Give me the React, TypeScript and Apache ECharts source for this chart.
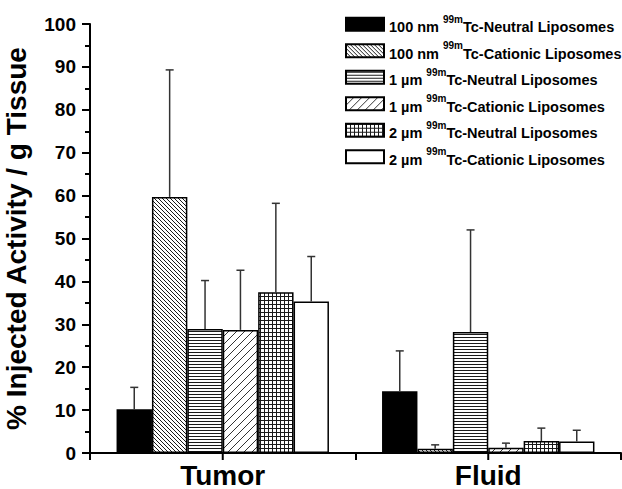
import React, { useEffect, useRef } from "react";
import * as echarts from "echarts";

const categories = ["Tumor", "Fluid"];
const seriesNames = [
  "100 nm 99mTc-Neutral Liposomes",
  "100 nm 99mTc-Cationic Liposomes",
  "1 µm 99mTc-Neutral Liposomes",
  "1 µm 99mTc-Cationic Liposomes",
  "2 µm 99mTc-Neutral Liposomes",
  "2 µm 99mTc-Cationic Liposomes",
];
const sizeLabels = ["100 nm ", "100 nm ", "1 µm ", "1 µm ", "2 µm ", "2 µm "];
const tailLabels = [
  "Tc-Neutral Liposomes",
  "Tc-Cationic Liposomes",
  "Tc-Neutral Liposomes",
  "Tc-Cationic Liposomes",
  "Tc-Neutral Liposomes",
  "Tc-Cationic Liposomes",
];
// means [Tumor, Fluid]
const neutral100 = [10.2, 14.4];
const cationic100 = [59.7, 1.0];
const neutral1um = [28.9, 28.2];
const cationic1um = [28.7, 1.2];
const neutral2um = [37.5, 2.8];
const cationic2um = [35.3, 2.7];
// upper error bar ends [Tumor, Fluid]
const neutral100Err = [15.3, 23.8];
const cationic100Err = [89.3, 1.9];
const neutral1umErr = [40.2, 52.0];
const cationic1umErr = [42.6, 2.3];
const neutral2umErr = [58.2, 5.8];
const cationic2umErr = [45.8, 5.3];

const yTicks = { min: 0, max: 100, interval: 10 };

const means = [neutral100, cationic100, neutral1um, cationic1um, neutral2um, cationic2um];
const errs = [neutral100Err, cationic100Err, neutral1umErr, cationic1umErr, neutral2umErr, cationic2umErr];

function makeTile(w: number, h: number, draw: (c: CanvasRenderingContext2D) => void) {
  const cv = document.createElement("canvas");
  cv.width = w;
  cv.height = h;
  const c = cv.getContext("2d")!;
  c.fillStyle = "#ffffff";
  c.fillRect(0, 0, w, h);
  c.strokeStyle = "#1a1a1a";
  c.lineWidth = 1;
  draw(c);
  return { image: cv.toDataURL(), repeat: "repeat", imageWidth: w, imageHeight: h } as any;
}

export default function App() {
  const ref = useRef<HTMLDivElement>(null);
  useEffect(() => {
    if (!ref.current) return;
    const back = makeTile(4, 4, (c) => {
      c.beginPath();
      c.moveTo(-1, -1); c.lineTo(5, 5);
      c.moveTo(-1, 3); c.lineTo(1, 5);
      c.moveTo(3, -1); c.lineTo(5, 1);
      c.stroke();
    });
    const horiz = makeTile(4, 3, (c) => {
      c.beginPath();
      c.moveTo(0, 1.5); c.lineTo(4, 1.5);
      c.stroke();
    });
    const fwd = makeTile(8, 8, (c) => {
      c.strokeStyle = "#333";
      c.beginPath();
      c.moveTo(-1, 9); c.lineTo(9, -1);
      c.moveTo(-1, 1); c.lineTo(1, -1);
      c.moveTo(7, 9); c.lineTo(9, 7);
      c.stroke();
    });
    const grid = makeTile(4, 4, (c) => {
      c.beginPath();
      c.moveTo(0.5, 0); c.lineTo(0.5, 4);
      c.moveTo(0, 0.5); c.lineTo(4, 0.5);
      c.stroke();
    });
    const fills: any[] = ["#000000", back, horiz, fwd, grid, "#ffffff"];

    const chart = echarts.init(ref.current, null, { renderer: "svg" });
    const font = "'Liberation Sans', Arial, sans-serif";
    const gapRatio = 0.2;
    const nS = seriesNames.length;

    const errData: any[] = [];
    errs.forEach((arr, s) => arr.forEach((e, ci) => errData.push([ci, means[s][ci], e, s])));

    const barSeries = seriesNames.map((name, s) => ({
      name,
      type: "bar",
      data: means[s],
      barGap: "0%",
      barCategoryGap: "20%",
      itemStyle: { color: fills[s], borderColor: "#000", borderWidth: 1.5 },
    }));

    chart.setOption({
      animation: false,
      textStyle: { fontFamily: font },
      grid: { left: 90, right: 1, top: 24, bottom: 36, containLabel: false, outerBoundsMode: "none" },
      legend: {
        orient: "vertical",
        left: 345,
        top: 14,
        padding: 0,
        icon: "rect",
        itemWidth: 38,
        itemHeight: 13,
        itemGap: 6,
        data: seriesNames,
        formatter: (name: string) => {
          const i = seriesNames.indexOf(name);
          return `{a|${sizeLabels[i]}}{s|99m}{a|${tailLabels[i]}}`;
        },
        textStyle: {
          rich: {
            a: { fontSize: 14.5, fontWeight: "bold", color: "#000", lineHeight: 20.5, verticalAlign: "bottom", fontFamily: font },
            s: { fontSize: 10, fontWeight: "bold", color: "#000", verticalAlign: "top", fontFamily: font },
          },
        },
      },
      xAxis: {
        type: "category",
        data: categories,
        axisLine: { lineStyle: { color: "#000", width: 2 } },
        axisTick: { show: true, interval: 0, length: 7, lineStyle: { color: "#000", width: 2 } },
        axisLabel: { fontSize: 28, fontWeight: "bold", color: "#000", margin: 8, fontFamily: font },
      },
      yAxis: {
        type: "value",
        min: yTicks.min,
        max: yTicks.max,
        interval: yTicks.interval,
        name: "% Injected Activity / g Tissue",
        nameLocation: "middle",
        nameGap: 60,
        nameTextStyle: { fontSize: 28, fontWeight: "bold", color: "#000", fontFamily: font },
        axisLine: { show: true, lineStyle: { color: "#000", width: 2 } },
        axisTick: { show: true, length: 8, lineStyle: { color: "#000", width: 2 } },
        minorTick: { show: true, splitNumber: 2, length: 5, lineStyle: { color: "#000", width: 2 } },
        splitLine: { show: false },
        axisLabel: { fontSize: 19, fontWeight: "bold", color: "#000", margin: 14, fontFamily: font },
      },
      series: [
        ...barSeries,
        {
          name: "errors",
          type: "custom",
          data: errData,
          encode: { x: 0, y: 1 },
          z: 5,
          renderItem: (params: any, api: any) => {
            const ci = api.value(0);
            const v = api.value(1);
            const e = api.value(2);
            const s = api.value(3);
            const base = api.coord([ci, v]);
            const top = api.coord([ci, e]);
            const band = api.size([1, 0])[0];
            const group = band * (1 - gapRatio);
            const bw = group / nS;
            const x = base[0] - group / 2 + (s + 0.5) * bw;
            const st = { stroke: "#333", lineWidth: 1.5 };
            return {
              type: "group",
              children: [
                { type: "line", shape: { x1: x, y1: base[1], x2: x, y2: top[1] }, style: st },
                { type: "line", shape: { x1: x - 4, y1: top[1], x2: x + 4, y2: top[1] }, style: st },
              ],
            };
          },
        },
        {
          name: "centerTicks",
          type: "custom",
          data: categories.map((_, i) => [i, 0]),
          encode: { x: 0, y: 1 },
          renderItem: (params: any, api: any) => {
            const p = api.coord([api.value(0), 0]);
            return {
              type: "line",
              shape: { x1: p[0], y1: p[1], x2: p[0], y2: p[1] + 7 },
              style: { stroke: "#000", lineWidth: 2 },
            };
          },
        },
      ],
    });
    return () => chart.dispose();
  }, []);
  return <div ref={ref} style={{ width: 622, height: 489, position: "absolute", left: 0, top: 0 }} />;
}
